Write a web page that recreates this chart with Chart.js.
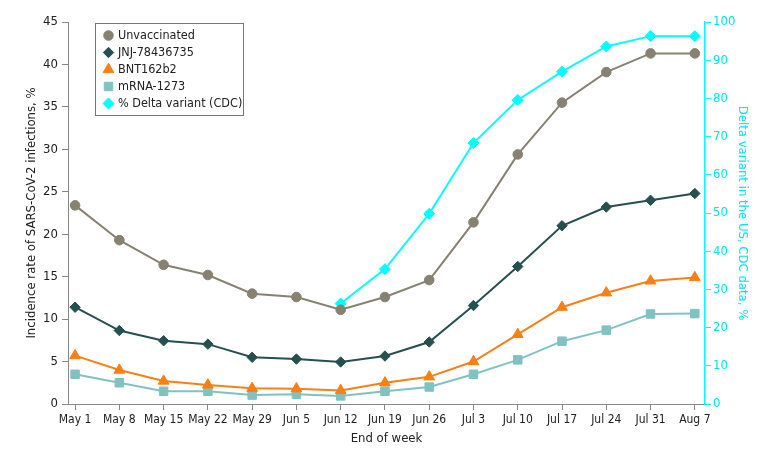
<!DOCTYPE html>
<html>
<head>
<meta charset="utf-8">
<script src="https://cdn.jsdelivr.net/npm/chart.js@4"></script>
<style>
    body { margin: 0; background: #fff; }
    #wrap { width: 780px; height: 459px; }
</style>
</head>
<body>
<div id="wrap"><canvas id="chart" width="780" height="459"></canvas></div>
<script>
const weeks = ['May 1', 'May 8', 'May 15', 'May 22', 'May 29', 'Jun 5', 'Jun 12', 'Jun 19', 'Jun 26', 'Jul 3', 'Jul 10', 'Jul 17', 'Jul 24', 'Jul 31', 'Aug 7'];

const unvaccinated = [23.4, 19.3, 16.4, 15.2, 13.0, 12.6, 11.1, 12.6, 14.6, 21.4, 29.4, 35.5, 39.1, 41.3, 41.3];
const jnj = [11.4, 8.65, 7.45, 7.05, 5.5, 5.3, 4.95, 5.65, 7.3, 11.6, 16.2, 21.0, 23.2, 24.0, 24.8];
const bnt = [5.7, 4.0, 2.7, 2.25, 1.85, 1.8, 1.6, 2.5, 3.2, 5.0, 8.2, 11.4, 13.1, 14.5, 14.9];
const mrna = [3.5, 2.5, 1.5, 1.5, 1.05, 1.15, 0.95, 1.5, 2.0, 3.5, 5.2, 7.4, 8.7, 10.6, 10.65];
const deltaPct = [null, null, null, null, null, null, 26.3, 35.3, 49.8, 68.3, 79.6, 87.0, 93.6, 96.3, 96.3];

const fontFamily = "'DejaVu Sans Condensed', 'DejaVu Sans', Arial, sans-serif";
Chart.defaults.font.family = fontFamily;
Chart.defaults.font.size = 12;
Chart.defaults.color = '#222';

const toPoints = arr => arr.map((v, i) => ({ x: i, y: v }));

function series(label, data, color, style, radius, axis) {
    return {
        label: label,
        data: toPoints(data),
        borderColor: color,
        backgroundColor: color,
        borderWidth: 2,
        pointStyle: style,
        pointRadius: radius,
        pointHoverRadius: radius,
        pointBorderWidth: 1,
        yAxisID: axis || 'y',
        tension: 0,
    };
}

const datasets = [
    series('Unvaccinated', unvaccinated, '#868170', 'circle', 4.8),
    series('JNJ-78436735', jnj, '#264f4f', 'rectRot', 5.2),
    series('BNT162b2', bnt, '#fb7f12', 'triangle', 6.2),
    series('mRNA-1273', mrna, '#80c2c2', 'rect', 6),
    series('% Delta variant (CDC)', deltaPct, '#00ffff', 'rectRot', 5.5, 'y2'),
];

// legend box drawn inside the plot area
const boxLegend = {
    id: 'boxLegend',
    afterDraw(chart) {
        const ctx = chart.ctx;
        const area = chart.chartArea;
        const left = area.left + 27;
        const top = area.top + 1;
        const rowH = 17;
        ctx.save();
        ctx.strokeStyle = '#777';
        ctx.lineWidth = 1;
        ctx.fillStyle = '#fff';
        ctx.fillRect(left + 0.5, top + 0.5, 148, 92);
        ctx.strokeRect(left + 0.5, top + 0.5, 148, 92);
        chart.data.datasets.forEach((ds, i) => {
            const cy = top + 12.5 + i * rowH;
            ctx.fillStyle = ds.backgroundColor;
            ctx.strokeStyle = ds.borderColor;
            ctx.lineWidth = 1;
            Chart.helpers.drawPoint(ctx, { pointStyle: ds.pointStyle, radius: ds.pointRadius, borderWidth: 1 }, left + 13.5, cy);
            ctx.fillStyle = '#222';
            ctx.font = '12.5px ' + fontFamily;
            ctx.textBaseline = 'middle';
            ctx.fillText(ds.label, left + 23, cy + 0.5);
        });
        ctx.restore();
    }
};

new Chart(document.getElementById('chart'), {
    type: 'line',
    data: { datasets: datasets },
    options: {
        responsive: false,
        animation: false,
        layout: { padding: { top: 22, left: 0, right: 0, bottom: 0 } },
        plugins: {
            legend: { display: false },
            tooltip: { enabled: false },
        },
        scales: {
            x: {
                type: 'linear',
                min: -0.16,
                max: 14.23,
                afterBuildTicks: scale => {
                    scale.ticks = weeks.map((w, i) => ({ value: i }));
                },
                afterFit: scale => { scale.height = 55; },
                grid: { drawOnChartArea: false, tickLength: 6, color: '#888' },
                border: { color: '#888', width: 1 },
                ticks: {
                    autoSkip: false,
                    maxRotation: 0,
                    padding: 3,
                    callback: value => weeks[value],
                },
                title: {
                    display: true,
                    text: 'End of week',
                    font: { size: 13 },
                    padding: { top: 0, bottom: 13 },
                },
            },
            y: {
                position: 'left',
                min: 0,
                max: 45,
                afterFit: scale => { scale.width = 68; },
                grid: { drawOnChartArea: false, tickLength: 6, color: '#888' },
                border: { color: '#888', width: 1 },
                ticks: { stepSize: 5, padding: 4, font: { size: 13 } },
                title: {
                    display: true,
                    text: 'Incidence rate of SARS-CoV-2 infections, %',
                    font: { size: 13 },
                    padding: { top: 24, bottom: 0 },
                },
            },
            y2: {
                position: 'right',
                min: 0,
                max: 100,
                afterFit: scale => { scale.width = 75; },
                grid: { drawOnChartArea: false, tickLength: 6, color: '#00ffff' },
                border: { color: '#00ffff', width: 1.5 },
                ticks: { stepSize: 10, padding: 2, color: '#00e5f0', font: { size: 13 } },
                title: {
                    display: true,
                    text: 'Delta variant in the US, CDC data, %',
                    color: '#00e5f0',
                    font: { size: 13 },
                    padding: { top: 30, bottom: 0 },
                },
            },
        },
    },
    plugins: [boxLegend],
});
</script>
</body>
</html>
